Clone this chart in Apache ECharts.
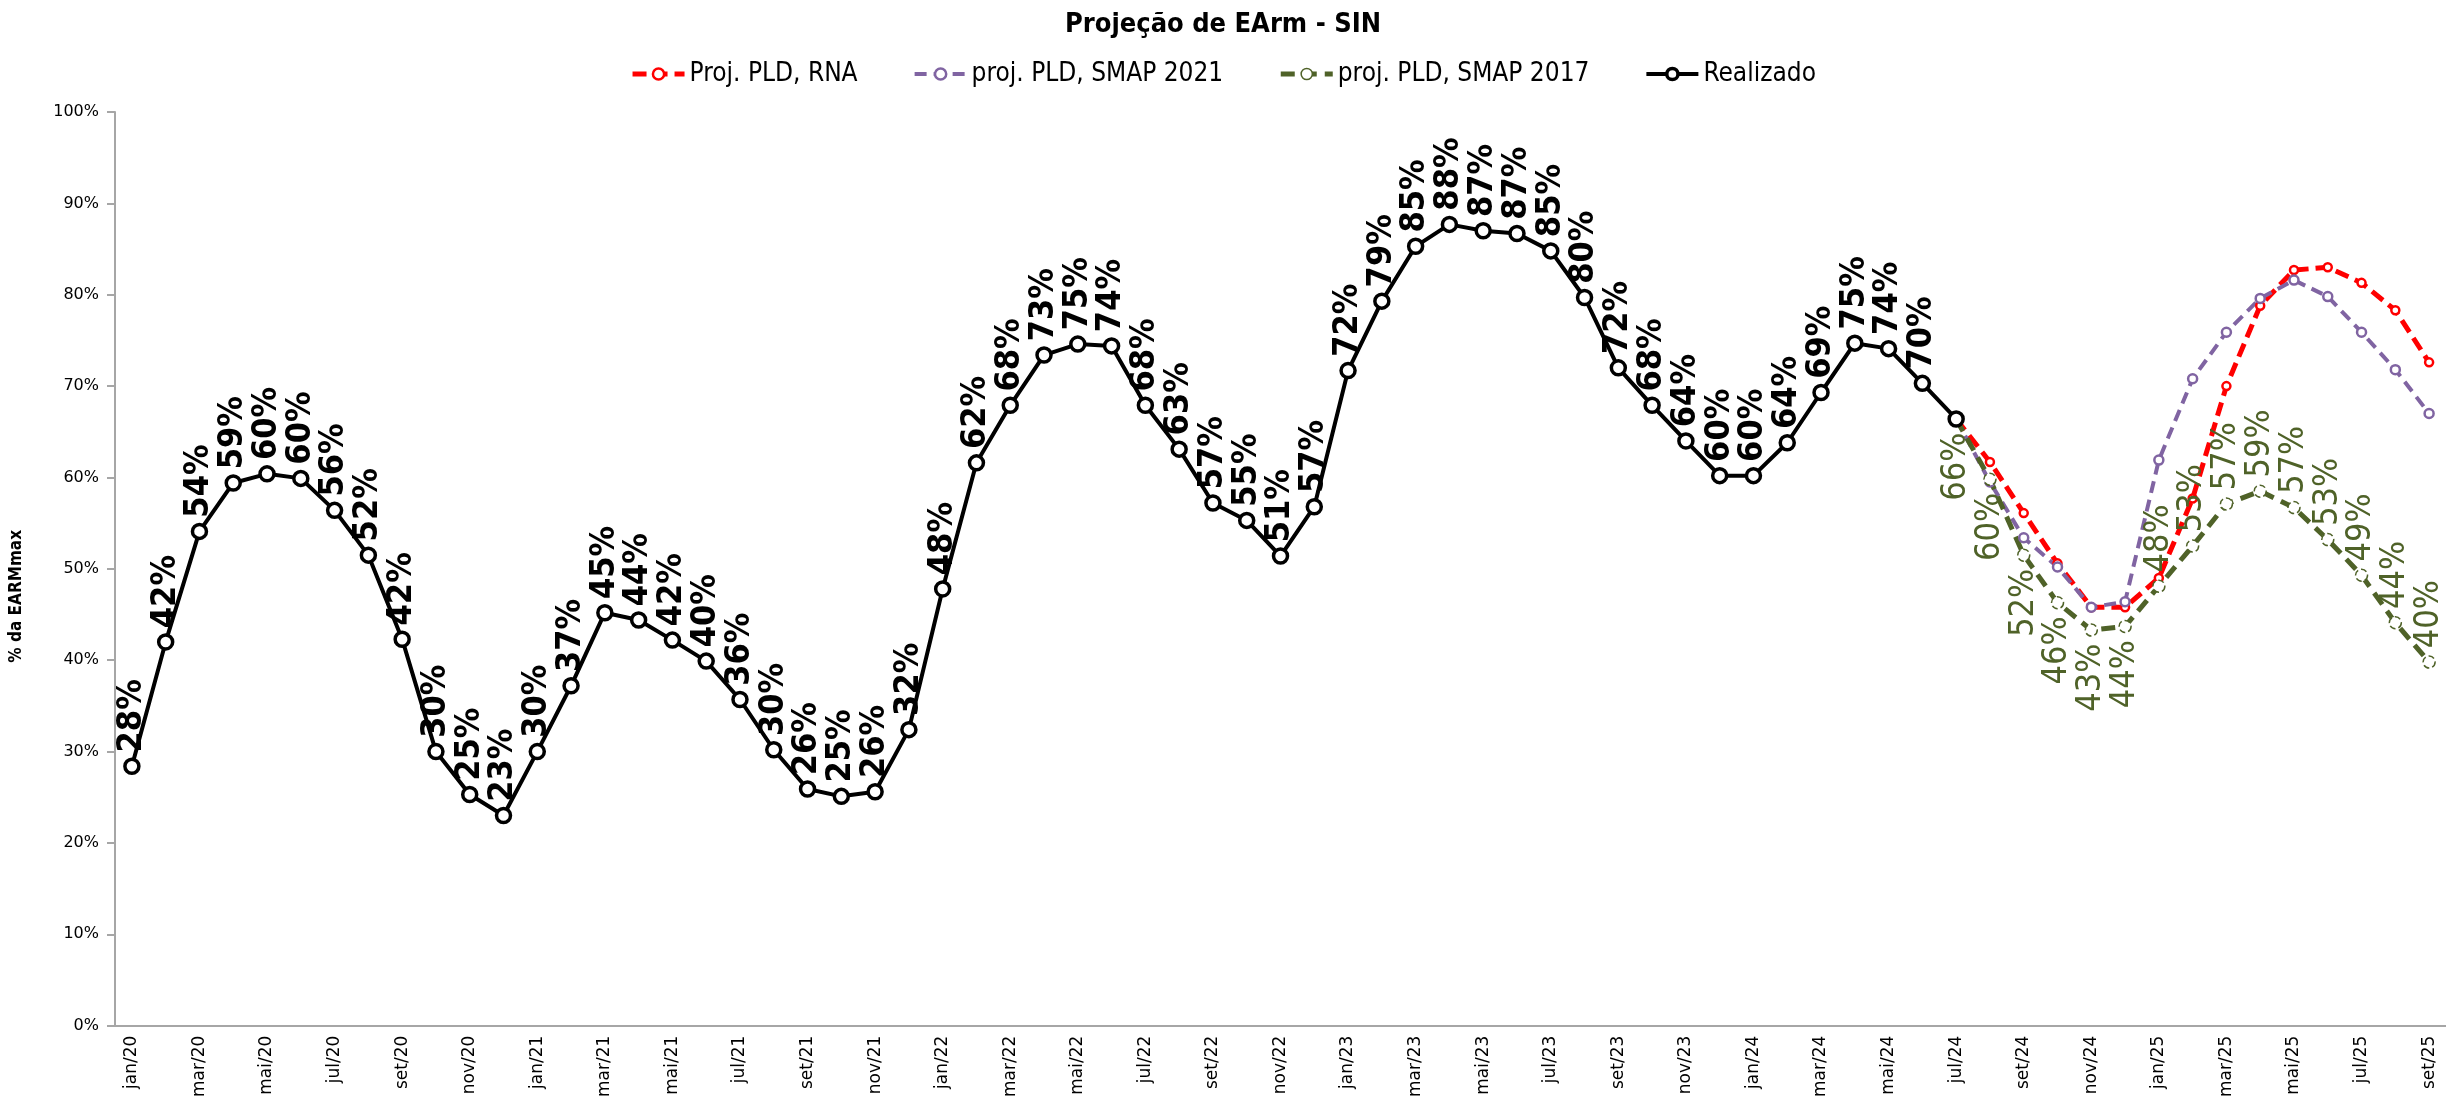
<!DOCTYPE html>
<html>
<head>
<meta charset="utf-8">
<title>Projeção de EArm - SIN</title>
<script src="https://cdn.jsdelivr.net/npm/echarts@6/dist/echarts.min.js"></script>
<style>
  html, body { margin: 0; padding: 0; background: #fff; }
  #chart { width: 2446px; height: 1100px; }
</style>
</head>
<body>
<div id="chart"></div>
<script>
// Meses jan/20 .. set/25
const months = [
  'jan/20','fev/20','mar/20','abr/20','mai/20','jun/20','jul/20','ago/20','set/20','out/20','nov/20','dez/20',
  'jan/21','fev/21','mar/21','abr/21','mai/21','jun/21','jul/21','ago/21','set/21','out/21','nov/21','dez/21',
  'jan/22','fev/22','mar/22','abr/22','mai/22','jun/22','jul/22','ago/22','set/22','out/22','nov/22','dez/22',
  'jan/23','fev/23','mar/23','abr/23','mai/23','jun/23','jul/23','ago/23','set/23','out/23','nov/23','dez/23',
  'jan/24','fev/24','mar/24','abr/24','mai/24','jun/24','jul/24','ago/24','set/24','out/24','nov/24','dez/24',
  'jan/25','fev/25','mar/25','abr/25','mai/25','jun/25','jul/25','ago/25','set/25'
];

// EAR realizado (% da EARMmax), jan/20 .. jul/24
const realizado = [
  28.4, 42.0, 54.1, 59.4, 60.4, 59.9, 56.4, 51.5, 42.3, 30.0, 25.3, 23.0,
  30.0, 37.2, 45.2, 44.4, 42.2, 39.9, 35.7, 30.2, 25.9, 25.1, 25.6, 32.4,
  47.8, 61.6, 67.9, 73.4, 74.6, 74.4, 67.9, 63.1, 57.2, 55.3, 51.4, 56.8,
  71.7, 79.3, 85.3, 87.7, 87.0, 86.7, 84.8, 79.7, 72.0, 67.9, 64.0, 60.2,
  60.2, 63.8, 69.3, 74.7, 74.1, 70.3, 66.4
];

// Projeções, jul/24 .. set/25
const projRNA = [66.4, 61.7, 56.1, 50.6, 45.8, 45.8, 49.0, 57.7, 70.0, 78.8, 82.7, 83.0, 81.3, 78.3, 72.6];
const projSMAP2021 = [66.4, 59.5, 53.4, 50.2, 45.8, 46.4, 61.9, 70.8, 75.9, 79.6, 81.6, 79.8, 75.9, 71.8, 67.0];
const projSMAP2017 = [66.4, 59.8, 51.5, 46.3, 43.3, 43.7, 48.1, 52.5, 57.1, 58.5, 56.7, 53.2, 49.3, 44.1, 39.8];

const yTicks = { min: 0, max: 100, interval: 10 };

const projStart = months.indexOf('jul/24');
const firstUpLabel = months.indexOf('jan/25');

function pad(arr, start) {
  const out = months.map(() => null);
  arr.forEach((v, i) => { out[start + i] = v; });
  return out;
}

const narrow = "'Liberation Sans Narrow', 'DejaVu Sans Condensed', 'Liberation Sans', sans-serif";
const pct = p => Math.round(p.value) + '%';

// Realizado: rótulo acima de cada ponto, exceto no último mês (jul/24)
const realizadoData = realizado.map((v, i) =>
  i === realizado.length - 1 ? { value: v, label: { show: false } } : v
);

// SMAP 2017: rótulos abaixo até dez/24, acima a partir de jan/25
const smap2017Data = pad(projSMAP2017, projStart).map((v, i) => {
  if (v === null) return null;
  const up = i >= firstUpLabel;
  return {
    value: v,
    label: up
      ? { position: 'top', align: 'left' }
      : { position: 'bottom', align: 'right' }
  };
});

const green = '#4F6228';

const option = {
  backgroundColor: '#ffffff',
  animation: false,
  title: {
    text: 'Projeção de EArm - SIN',
    left: 'center',
    top: 6,
    textStyle: { fontFamily: narrow, fontSize: 27, fontWeight: 'bold', color: '#000' }
  },
  legend: {
    top: 56,
    left: 'center',
    itemWidth: 52,
    itemHeight: 14,
    itemGap: 55,
    lineStyle: { width: 'inherit', type: 'inherit' },
    itemStyle: { borderWidth: 'inherit' },
    textStyle: { fontFamily: narrow, fontSize: 26, color: '#000' },
    data: ['Proj. PLD, RNA', 'proj. PLD, SMAP 2021', 'proj. PLD, SMAP 2017', 'Realizado']
  },
  grid: { left: 115, top: 112, width: 2333, height: 914, containLabel: false },
  graphic: [{
    type: 'text',
    left: 8,
    top: 530,
    rotation: Math.PI / 2,
    style: {
      text: '% da EARMmax',
      font: "bold 17px 'Liberation Sans Narrow', 'DejaVu Sans Condensed', sans-serif",
      fill: '#000'
    }
  }],
  xAxis: {
    type: 'category',
    data: months,
    boundaryGap: true,
    axisLine: { lineStyle: { color: '#a6a6a6', width: 2 } },
    axisTick: { interval: 1, length: 8, lineStyle: { color: '#a6a6a6', width: 2 } },
    axisLabel: {
      interval: 1,
      rotate: 90,
      margin: 10,
      fontFamily: 'DejaVu Sans',
      fontSize: 17,
      color: '#000'
    }
  },
  yAxis: {
    type: 'value',
    min: yTicks.min,
    max: yTicks.max,
    interval: yTicks.interval,
    splitLine: { show: false },
    axisLine: { show: true, lineStyle: { color: '#a6a6a6', width: 2 } },
    axisTick: { show: true, length: 8, lineStyle: { color: '#a6a6a6', width: 2 } },
    axisLabel: {
      formatter: '{value}%',
      margin: 16,
      fontFamily: 'DejaVu Sans',
      fontSize: 16,
      color: '#000'
    }
  },
  series: [
    {
      name: 'Proj. PLD, RNA',
      type: 'line',
      data: pad(projRNA, projStart),
      symbol: 'circle',
      symbolSize: 8,
      lineStyle: { color: '#FF0000', width: 5, type: [14, 7] },
      itemStyle: { color: '#ffffff', borderColor: '#FF0000', borderWidth: 2.5 }
    },
    {
      name: 'proj. PLD, SMAP 2021',
      type: 'line',
      data: pad(projSMAP2021, projStart),
      symbol: 'circle',
      symbolSize: 9,
      lineStyle: { color: '#8064A2', width: 4, type: [12, 7] },
      itemStyle: { color: '#ffffff', borderColor: '#8064A2', borderWidth: 2.5 }
    },
    {
      name: 'proj. PLD, SMAP 2017',
      type: 'line',
      data: smap2017Data,
      symbol: 'circle',
      symbolSize: 12,
      lineStyle: { color: green, width: 5, type: [14, 8] },
      itemStyle: { color: '#ffffff', borderColor: green, borderWidth: 1.5, borderType: 'dashed' },
      label: {
        show: true,
        rotate: 90,
        distance: 7,
        verticalAlign: 'middle',
        formatter: pct,
        fontFamily: narrow,
        fontSize: 34,
        color: green
      }
    },
    {
      name: 'Realizado',
      type: 'line',
      data: realizadoData,
      symbol: 'circle',
      symbolSize: 14,
      lineStyle: { color: '#000000', width: 4 },
      itemStyle: { color: '#ffffff', borderColor: '#000000', borderWidth: 3.5 },
      label: {
        show: true,
        position: 'top',
        rotate: 90,
        align: 'left',
        verticalAlign: 'middle',
        distance: 5,
        formatter: pct,
        fontFamily: narrow,
        fontSize: 34,
        fontWeight: 'bold',
        color: '#000000'
      }
    }
  ]
};

const chart = echarts.init(document.getElementById('chart'), null, { renderer: 'canvas' });
chart.setOption(option);
</script>
</body>
</html>
